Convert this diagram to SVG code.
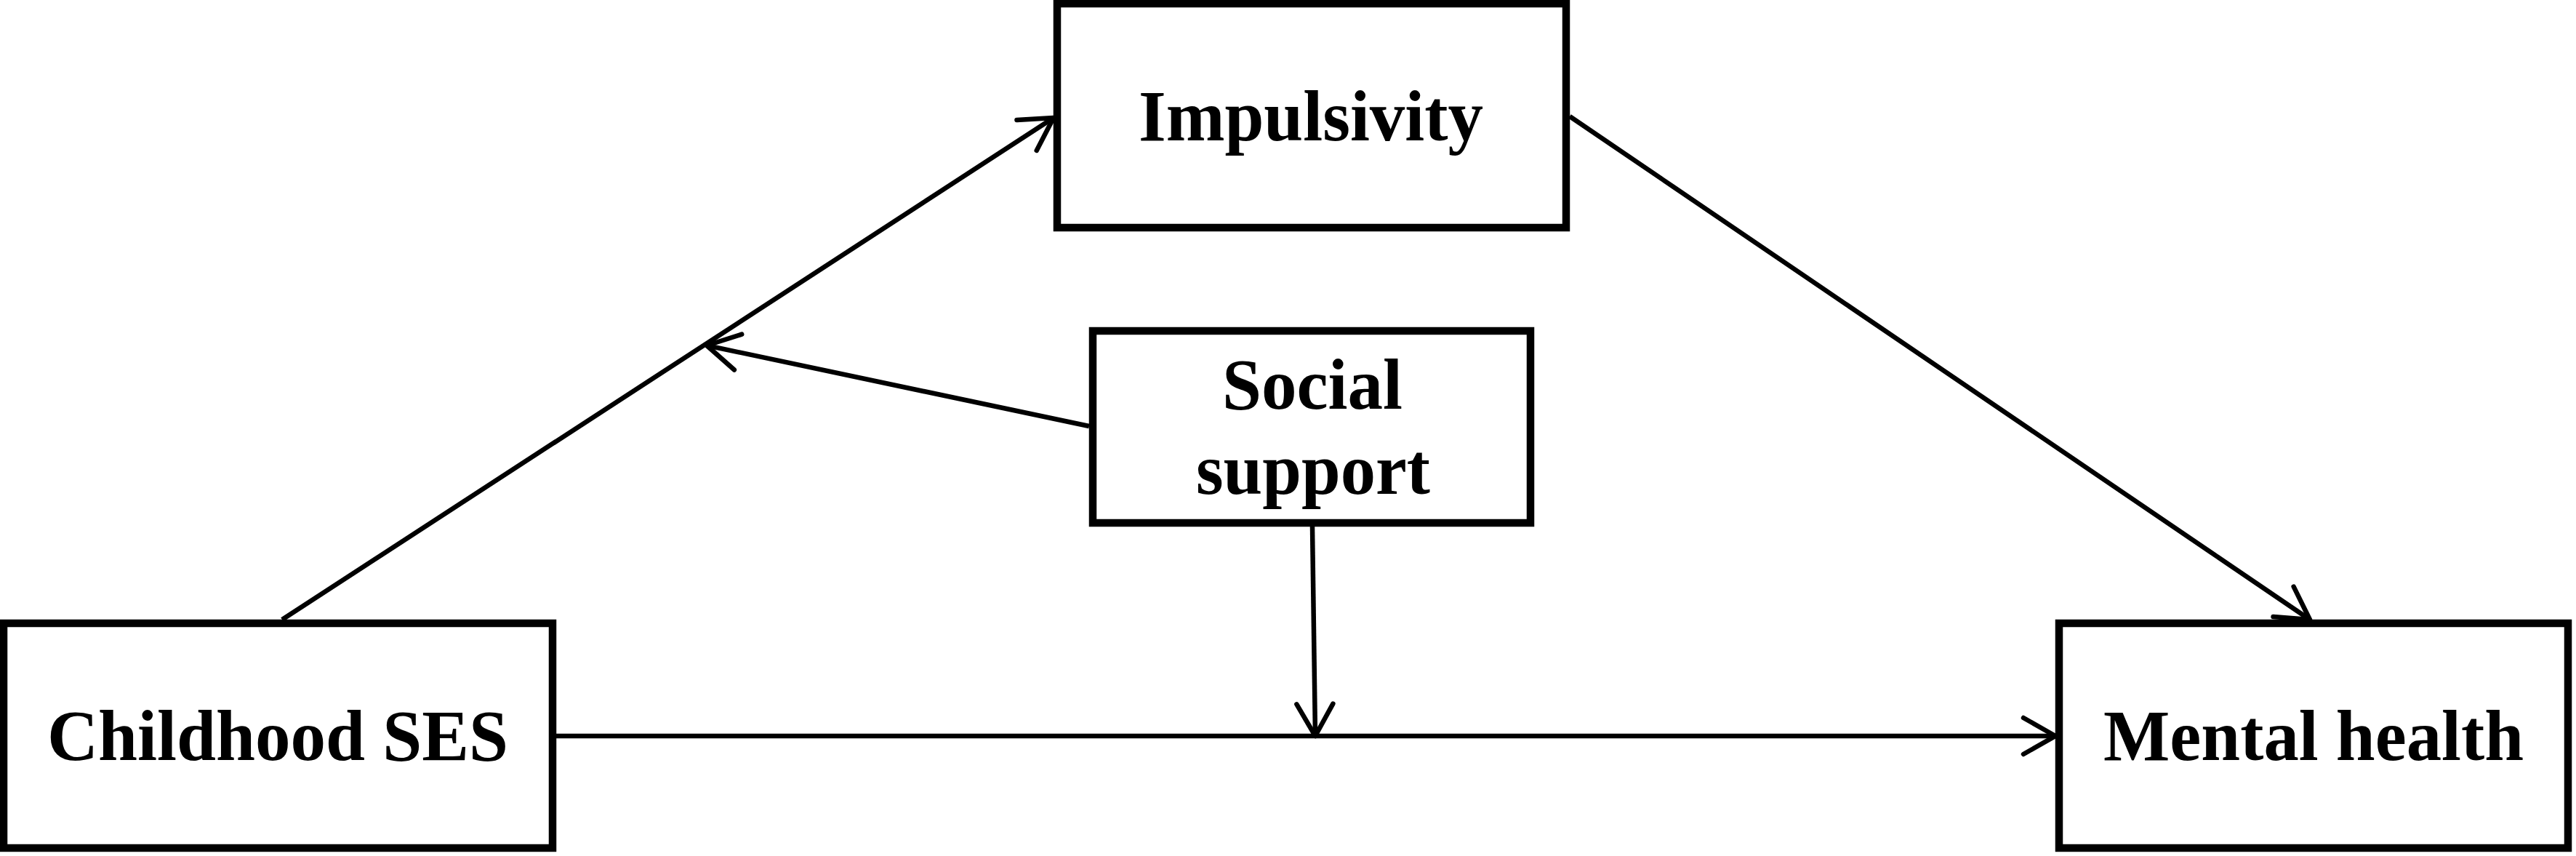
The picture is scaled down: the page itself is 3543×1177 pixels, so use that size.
<svg xmlns="http://www.w3.org/2000/svg" width="3543" height="1177" viewBox="0 0 3543 1177">
  <style>
    .box { fill: #ffffff; stroke: #000000; stroke-width: 10.5; }
    .lbl { font-family: "Liberation Serif", "Times New Roman", serif; font-weight: bold; font-size: 100px; fill: #000000; text-anchor: middle; }
    .conn { stroke: #000000; stroke-width: 6.5; fill: none; marker-end: url(#arrow); }
  </style>
  <defs>
    <marker id="arrow" markerUnits="userSpaceOnUse" markerWidth="120" markerHeight="120" viewBox="-60 -60 120 120" refX="0" refY="0" orient="auto" overflow="visible">
      <path d="M -44 -25 L 0 0 L -44 25" fill="none" stroke="#000000" stroke-width="6.5" stroke-linecap="round" stroke-linejoin="round"/>
    </marker>
  </defs>
  <rect width="3543" height="1177" fill="#ffffff"/>
  <g id="connectors">
    <line class="conn" x1="388" y1="852" x2="1449" y2="162"/>
    <line class="conn" x1="2159" y1="160" x2="3177" y2="852"/>
    <line class="conn" x1="765" y1="1012" x2="2827" y2="1012"/>
    <line class="conn" x1="1498" y1="586" x2="972" y2="475"/>
    <line class="conn" x1="1805" y1="724" x2="1809" y2="1012"/>
  </g>
  <g id="node-impulsivity">
    <rect class="box" x="1454" y="5" width="700" height="308"/>
    <text class="lbl" x="1803" y="193" textLength="474" lengthAdjust="spacingAndGlyphs">Impulsivity</text>
  </g>
  <g id="node-social-support">
    <rect class="box" x="1503" y="455" width="602" height="264"/>
    <text class="lbl" x="1805" y="562" textLength="248" lengthAdjust="spacingAndGlyphs">Social</text>
    <text class="lbl" x="1806" y="679" textLength="322" lengthAdjust="spacingAndGlyphs">support</text>
  </g>
  <g id="node-childhood-ses">
    <rect class="box" x="5" y="857" width="755" height="309"/>
    <text class="lbl" x="382" y="1045" textLength="634" lengthAdjust="spacingAndGlyphs">Childhood SES</text>
  </g>
  <g id="node-mental-health">
    <rect class="box" x="2832" y="857" width="700" height="309"/>
    <text class="lbl" x="3182" y="1045" textLength="578" lengthAdjust="spacingAndGlyphs">Mental health</text>
  </g>
</svg>
